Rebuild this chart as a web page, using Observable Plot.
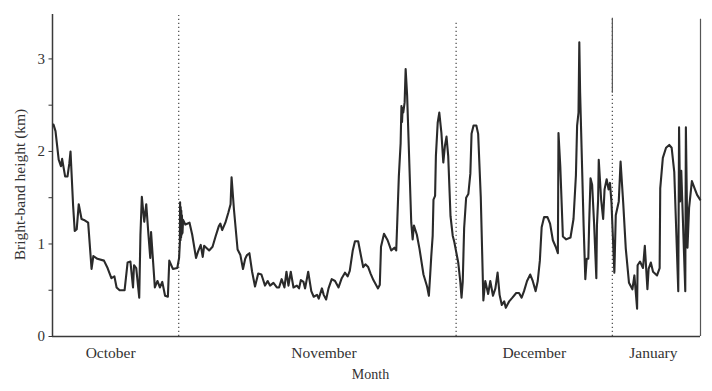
<!DOCTYPE html>
<html>
<head>
<meta charset="utf-8">
<script src="https://cdn.jsdelivr.net/npm/d3@7"></script>
<script src="https://cdn.jsdelivr.net/npm/@observablehq/plot@0.6"></script>
<style>
  body { margin: 0; background: #fff; }
  #chart { width: 712px; height: 391px; }
</style>
</head>
<body>
<div id="chart"></div>
<script>
// Bright-band height (km) per radar observation, October to January.
// Each entry: [observation number, height in km].
const october = [
  [0.5,2.29],[1.5,2.22],[3.1,1.91],[4.2,1.84],[4.8,1.92],[6.3,1.73],[7.5,1.73],[8.4,1.87],[9.0,2.0],
  [10.3,1.41],[11.1,1.14],[12.1,1.16],[13.1,1.43],[14.5,1.27],[15.7,1.26],[17.8,1.23],[19.5,0.73],
  [20.4,0.87],[22.4,0.84],[25.7,0.82],[27.5,0.74],[29.4,0.63],[30.9,0.65],[32.0,0.53],[33.5,0.50],
  [36.0,0.50],[37.5,0.80],[38.9,0.81],[40.2,0.53],[40.7,0.77],[41.8,0.74],[43.3,0.42],[43.9,1.10],
  [44.6,1.51],[45.8,1.24],[46.8,1.43],[47.9,1.10],[48.8,0.85],[49.2,1.13],[51.1,0.53],[52.4,0.60],
  [53.6,0.53],[54.8,0.59],[56.2,0.44],[57.6,0.43],[58.3,0.82],[60.1,0.73],[62.3,0.74]
];
const november = [
  [63.2,0.85],[63.6,1.02],[63.7,1.45],[63.9,1.04],[64.0,1.40],[64.2,1.07],[64.3,1.36],[64.5,1.10],
  [64.6,1.31],[64.9,1.12],[65.2,1.26],[66.3,1.21],[68.4,1.23],[69.75,1.10],[71.65,0.85],[72.7,0.92],
  [74.0,0.99],[75.0,0.86],[75.7,0.98],[78.2,0.93],[79.9,0.97],[81.4,1.08],[83.0,1.19],[83.8,1.22],
  [84.7,1.15],[86.3,1.23],[87.8,1.34],[88.9,1.43],[89.4,1.72],[90.6,1.37],[92.4,0.94],[93.8,0.88],
  [95.1,0.73],[96.2,0.84],[97.1,0.88],[98.3,0.90],[99.65,0.70],[101.1,0.54],[102.7,0.68],[104.3,0.67],
  [106.1,0.55],[107.4,0.60],[108.6,0.55],[110.3,0.58],[112.0,0.53],[113.1,0.53],[114.4,0.62],[115.8,0.53],
  [116.8,0.70],[117.8,0.55],[118.95,0.70],[120.3,0.53],[122.0,0.55],[123.1,0.52],[124.0,0.61],[125.3,0.59],
  [126.1,0.52],[127.65,0.70],[129.2,0.49],[130.4,0.43],[132.05,0.45],[132.9,0.41],[134.5,0.52],[135.4,0.45],
  [136.6,0.40],[137.8,0.52],[139.4,0.62],[141.05,0.60],[142.8,0.53],[144.4,0.63],[146.0,0.69],[147.35,0.65],
  [148.4,0.71],[149.9,0.93],[151.0,1.03],[152.6,1.03],[154.1,0.86],[155.1,0.75],[156.2,0.78],[157.6,0.75],
  [158.8,0.68],[160.2,0.61],[162.5,0.52],[163.4,0.56],[164.0,0.97],[165.5,1.11],[167.3,1.04],[169.1,0.93],
  [170.7,0.96],[171.6,0.93],[172.1,1.23],[172.9,1.73],[173.8,2.09],[174.2,2.49],[174.5,2.32],[174.8,2.47],
  [175.1,2.42],[175.8,2.53],[176.3,2.89],[177.05,2.60],[179.1,1.23],[179.8,1.05],[180.45,1.20],[181.9,1.10],
  [183.2,0.95],[185.2,0.67],[187.0,0.54],[187.9,0.44],[188.5,0.65],[189.1,0.87],[189.8,1.09],[190.2,1.48],
  [191.0,1.52],[191.4,1.95],[192.3,2.31],[193.1,2.42],[194.15,2.20],[195.1,1.88],[195.9,2.06],[196.7,2.16],
  [197.55,1.95],[198.7,1.30],[199.8,1.09],[200.6,1.02]
];
const december = [
  [202.55,0.80],[203.6,0.59],[204.2,0.42],[204.8,0.59],[205.5,1.17],[206.5,1.50],[207.6,1.54],[208.6,1.76],
  [209.2,2.19],[210.2,2.28],[211.6,2.28],[212.5,2.19],[213.8,1.51],[215.1,0.39],[216.05,0.60],[217.5,0.46],
  [218.55,0.60],[219.9,0.44],[221.1,0.52],[222.2,0.69],[223.2,0.45],[224.3,0.34],[225.5,0.38],[226.3,0.31],
  [228.0,0.38],[229.6,0.42],[231.5,0.47],[232.9,0.47],[234.2,0.42],[235.4,0.49],[236.9,0.60],[238.5,0.67],
  [239.75,0.60],[241.2,0.49],[242.25,0.60],[243.3,0.82],[244.2,1.18],[245.4,1.29],[247.1,1.29],[248.4,1.22],
  [249.8,1.04],[251.2,0.97],[252.3,0.90],[252.6,2.20],[253.5,1.84],[254.8,1.08],[256.45,1.05],[258.6,1.07],
  [260.1,1.27],[261.3,1.74],[261.9,2.28],[262.6,2.42],[263.0,3.18],[263.4,2.64],[265.15,1.20],[266.0,0.62],
  [266.7,0.84],[267.5,0.84],[267.9,1.21],[268.6,1.71],[269.4,1.64],[270.4,1.21],[271.5,0.63],[271.8,1.20],
  [272.4,1.48],[272.7,1.91],[273.9,1.48],[274.9,1.27],[275.6,1.59],[276.65,1.70],[277.6,1.59],[278.3,1.66],
  [279.05,1.45]
];
const january = [
  [280.5,0.69],[281.2,1.31],[282.7,1.46],[283.6,1.89],[284.9,1.45],[286.2,0.95],[287.8,0.58],[289.5,0.51],
  [290.5,0.66],[291.85,0.30],[292.1,0.77],[293.3,0.81],[294.8,0.74],[295.7,0.98],[297.0,0.51],[297.6,0.73],
  [298.7,0.80],[299.8,0.70],[301.8,0.66],[303.1,0.74],[303.4,1.60],[304.7,1.93],[306.3,2.04],[307.9,2.07],
  [309.1,2.04],[310.4,1.78],[312.4,0.49],[312.8,2.26],[313.3,1.46],[313.9,1.79],[315.9,0.49],[316.2,2.26],
  [317.0,0.96],[317.8,1.39],[319.2,1.68],[320.55,1.60],[321.8,1.53],[323.3,1.48]
];

// Month names, the observation where each new month begins, and where each name sits.
const months = ["October", "November", "December", "January"];
const monthStarts = [63, 201.5, 279.5];
const monthLabelAt = [29, 135.5, 240.5, 300];
// Dividers are dotted; the last one is drawn solid above this height.
const dividerTop = [3.47, 3.39, 3.44];
const dividerSolidFrom = [null, null, 2.63];

const recordEnd = 323.5;        // last observation (right edge of frame)
const axisTop = 3.48;           // top of the left axis (km)
const rightFrameTop = 3.43;     // top of the right frame line (km)
const yTicks = [0, 0.5, 1, 1.5, 2, 2.5, 3];

const series = [...october, ...november, ...december, ...january]
  .map(([obs, km]) => ({obs, km}));
const dividers = monthStarts.map((obs, i) => ({obs, top: dividerTop[i], solidFrom: dividerSolidFrom[i]}));
const solidDividers = dividers.filter(d => d.solidFrom != null);
const monthLabels = months.map((name, i) => ({name, obs: monthLabelAt[i]}));

const ink = "#333";

const chart = Plot.plot({
  width: 712,
  height: 391,
  marginLeft: 52,
  marginRight: 12,
  marginTop: 14,
  marginBottom: 55,
  style: {fontFamily: "'Liberation Serif', 'Times New Roman', serif", fontSize: "15px", color: ink, background: "#fff"},
  x: {domain: [0, recordEnd], axis: null},
  y: {
    domain: [0, axisTop],
    ticks: yTicks,
    tickSize: 3.5,
    tickPadding: 4,
    tickFormat: d => Number.isInteger(d) ? String(d) : "",
    label: null
  },
  marks: [
    // month dividers
    Plot.ruleX(dividers, {x: "obs", y1: 0, y2: "top", stroke: "#555", strokeWidth: 1.3, strokeDasharray: "1.3,2.7"}),
    Plot.ruleX(solidDividers, {x: "obs", y1: "solidFrom", y2: "top", stroke: "#555", strokeWidth: 1.2}),
    // frame: left axis, right edge, baseline
    Plot.ruleX([0], {y1: 0, y2: axisTop, stroke: "#3a3a3a", strokeWidth: 1.5}),
    Plot.ruleX([recordEnd], {y1: 0, y2: rightFrameTop, stroke: "#555", strokeWidth: 1.2}),
    Plot.ruleY([0], {x1: 0, x2: recordEnd, stroke: "#3a3a3a", strokeWidth: 1.6}),
    // bright-band height trace
    Plot.line(series, {x: "obs", y: "km", stroke: "#2a2a2a", strokeWidth: 2.1, strokeLinejoin: "round", strokeLinecap: "round"}),
    // month names under the baseline
    Plot.text(monthLabels, {x: "obs", y: 0, text: "name", dy: 17, fontSize: 15.5, fill: ink}),
    // axis titles
    Plot.text(["Month"], {frameAnchor: "bottom", dx: -6, dy: 42, fontSize: 14, fill: ink}),
    Plot.text(["Bright-band height (km)"], {frameAnchor: "left", textAnchor: "middle", rotate: -90, dx: -32, dy: 9, fontSize: 15.5, fill: ink})
  ]
});

document.getElementById("chart").append(chart);
</script>
</body>
</html>
